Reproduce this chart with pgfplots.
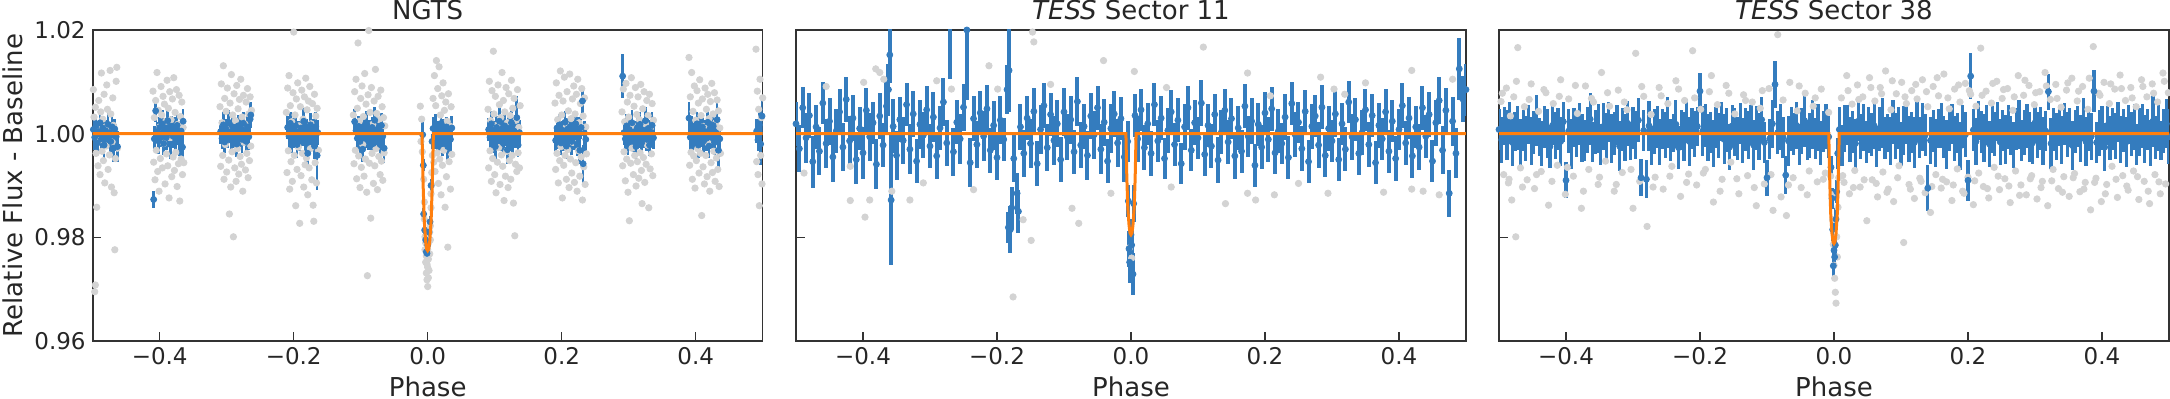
\documentclass[border=0pt]{standalone}
\usepackage{fontspec}
\setmainfont{DejaVu Sans}
\usepackage{pgfplots}
\pgfplotsset{compat=1.18}

\definecolor{tblue}{RGB}{52,124,190}
\definecolor{torange}{RGB}{255,127,14}
\definecolor{lgrey}{RGB}{211,211,211}

\pgfplotsset{
  lc/.style={
    set layers,
    width=335pt, height=155.5pt, scale only axis,
    xmin=-0.5, xmax=0.5, ymin=0.96, ymax=1.02,
    xtick={-0.4,-0.2,0,0.2,0.4},
    xticklabels={−0.4,−0.2,0.0,0.2,0.4},
    ytick={0.96,0.98,1.00,1.02},
    tick align=inside, tick pos=left,
    major tick length=4.3pt,
    axis line style={black!80, line width=0.8pt},
    every tick/.style={black!80, line width=0.8pt},
    tick label style={font=\fontsize{11.5}{13}\selectfont, text=black!85},
    xticklabel style={anchor=base, yshift=-12pt},
    xlabel={Phase},
    label style={font=\fontsize{13}{15}\selectfont, text=black!85},
    xlabel style={at={(axis description cs:0.5,-0.1785)}, anchor=base},
    every axis title shift=0pt,
    title style={font=\fontsize{13}{15}\selectfont, text=black!85,
                 at={(axis description cs:0.5,1.0322)}, anchor=base},
  },
  grey/.style={only marks, mark=*, mark size=1.6pt, color=lgrey,
               mark options={draw=none, fill=lgrey}},
  binned/.style={only marks, mark=*, mark size=1.5pt, color=tblue,
                 mark options={draw=none, fill=tblue},
                 error bars/y dir=both, error bars/y explicit,
                 error bars/error mark=none,
                 error bars/error bar style={line width=1.35pt, tblue}},
  model/.style={torange, line width=1.5pt, sharp plot, no marks,
                on layer=axis foreground},
}

\begin{document}
\begin{tikzpicture}

% ---------------- NGTS
\begin{axis}[lc, at={(0pt,0pt)}, anchor=south west,
  title={NGTS},
  ylabel={Relative Flux - Baseline},
  ylabel style={at={(axis description cs:-0.1055,0.5)}, anchor=base},
  yticklabels={0.96,0.98,1.00,1.02}]

\addplot[grey] table {
x y
-0.499 1.0085
-0.498 1.0032
-0.497 0.9695
-0.496 0.9708
-0.496 1.0051
-0.495 0.9962
-0.494 0.9858
-0.493 1.0011
-0.492 0.9938
-0.491 1.0064
-0.490 0.9987
-0.489 0.9921
-0.488 1.0042
-0.487 1.0117
-0.486 0.9966
-0.485 1.0028
-0.484 0.9948
-0.483 1.0076
-0.482 0.9905
-0.481 1.0013
-0.480 0.9976
-0.479 1.0094
-0.478 1.0047
-0.477 0.9931
-0.476 1.0003
-0.475 0.9959
-0.474 1.0122
-0.473 1.0038
-0.472 0.9897
-0.471 0.9984
-0.470 1.0069
-0.469 1.0016
-0.468 0.9886
-0.467 0.9776
-0.466 0.9952
-0.465 1.0101
-0.464 1.0128
-0.463 0.9972
-0.410 1.0082
-0.409 0.9945
-0.408 1.0031
-0.407 0.9911
-0.406 1.0064
-0.405 0.9968
-0.404 1.0118
-0.403 0.9927
-0.402 1.0045
-0.401 0.9889
-0.400 1.0013
-0.399 0.9952
-0.398 1.0091
-0.397 1.0036
-0.396 0.9934
-0.395 1.0072
-0.394 0.9981
-0.393 1.0057
-0.392 0.9903
-0.391 1.0024
-0.390 0.9961
-0.389 1.0103
-0.388 0.9938
-0.387 1.0049
-0.386 0.9876
-0.385 1.0081
-0.384 0.9992
-0.383 1.0027
-0.382 0.9917
-0.381 1.0067
-0.380 0.9955
-0.379 1.0108
-0.378 0.9929
-0.377 1.0041
-0.376 0.9964
-0.375 1.0085
-0.374 0.9898
-0.373 1.0018
-0.372 0.9942
-0.371 1.0074
-0.370 0.9870
-0.369 1.0033
-0.368 0.9951
-0.367 1.0061
-0.366 0.9921
-0.365 1.0012
-0.364 0.9944
-0.310 1.0052
-0.309 0.9937
-0.308 1.0096
-0.307 1.0021
-0.306 0.9958
-0.305 1.0131
-0.304 0.9912
-0.303 1.0068
-0.302 0.9979
-0.301 1.0043
-0.300 0.9926
-0.299 1.0088
-0.298 1.0007
-0.297 0.9949
-0.296 0.9845
-0.295 1.0059
-0.294 0.9897
-0.293 1.0114
-0.292 0.9965
-0.291 1.0036
-0.290 0.9801
-0.289 1.0077
-0.288 0.9934
-0.287 1.0025
-0.286 0.9908
-0.285 1.0093
-0.284 0.9971
-0.283 1.0048
-0.282 0.9922
-0.281 1.0066
-0.280 0.9956
-0.279 1.0105
-0.278 0.9941
-0.277 1.0032
-0.276 0.9889
-0.275 1.0074
-0.274 0.9983
-0.273 1.0019
-0.272 0.9930
-0.271 1.0061
-0.270 0.9962
-0.269 1.0087
-0.268 0.9915
-0.267 1.0038
-0.266 0.9948
-0.265 1.0071
-0.264 0.9976
-0.263 1.0045
-0.211 1.0041
-0.210 0.9925
-0.209 1.0088
-0.208 0.9967
-0.207 1.0112
-0.206 0.9893
-0.205 1.0054
-0.204 0.9946
-0.203 1.0023
-0.202 0.9908
-0.201 1.0079
-0.200 1.0196
-0.199 0.9958
-0.198 1.0036
-0.197 0.9861
-0.196 1.0067
-0.195 0.9931
-0.194 1.0098
-0.193 0.9974
-0.192 1.0015
-0.191 0.9827
-0.190 1.0052
-0.189 0.9919
-0.188 1.0084
-0.187 0.9962
-0.186 1.0028
-0.185 0.9897
-0.184 1.0071
-0.183 0.9940
-0.182 1.0107
-0.181 0.9953
-0.180 1.0046
-0.179 0.9882
-0.178 1.0063
-0.177 0.9934
-0.176 1.0091
-0.175 0.9971
-0.174 1.0019
-0.173 0.9911
-0.172 1.0058
-0.171 0.9862
-0.170 0.9831
-0.169 1.0076
-0.168 0.9944
-0.167 1.0034
-0.166 0.9905
-0.165 1.0049
-0.163 0.9968
-0.111 1.0036
-0.110 0.9942
-0.109 1.0081
-0.108 0.9968
-0.107 1.0105
-0.106 0.9913
-0.105 1.0049
-0.104 1.0175
-0.103 0.9957
-0.102 1.0024
-0.101 0.9896
-0.100 1.0068
-0.099 0.9935
-0.098 1.0092
-0.097 0.9979
-0.096 1.0033
-0.095 0.9918
-0.094 1.0116
-0.093 0.9951
-0.092 1.0057
-0.091 0.9887
-0.090 0.9726
-0.089 1.0075
-0.088 1.0199
-0.087 0.9943
-0.086 1.0041
-0.085 0.9837
-0.084 1.0089
-0.083 0.9962
-0.082 1.0018
-0.081 0.9904
-0.080 1.0063
-0.079 0.9938
-0.078 1.0124
-0.077 0.9971
-0.076 1.0039
-0.075 0.9892
-0.074 1.0072
-0.073 0.9956
-0.072 1.0027
-0.071 0.9921
-0.070 1.0084
-0.069 0.9947
-0.068 1.0052
-0.067 0.9910
-0.066 1.0031
-0.065 0.9963
-0.064 1.0015
-0.011 1.0053
-0.010 0.9985
-0.009 1.0028
-0.008 0.9965
-0.006 0.9912
-0.005 0.9868
-0.005 0.9835
-0.004 0.9801
-0.004 0.9776
-0.003 0.9789
-0.003 0.9752
-0.002 0.9764
-0.002 0.9731
-0.001 0.9748
-0.001 0.9718
0.000 0.9742
0.000 0.9705
0.000 0.9776
0.001 0.9722
0.001 0.9758
0.002 0.9736
0.002 0.9791
0.003 0.9768
0.003 0.9810
0.004 0.9822
0.004 0.9795
0.005 0.9857
0.005 0.9884
0.006 0.9925
0.006 0.9901
0.007 0.9958
0.008 1.0068
0.009 0.9945
0.010 1.0112
0.011 0.9927
0.012 1.0054
0.013 1.0141
0.014 0.9963
0.015 1.0087
0.016 0.9904
0.017 1.0129
0.018 0.9951
0.019 1.0036
0.020 0.9882
0.021 1.0073
0.022 0.9939
0.023 1.0098
0.024 0.9968
0.025 1.0045
0.026 0.9858
0.027 1.0061
0.028 0.9917
0.029 1.0024
0.030 0.9781
0.031 1.0077
0.032 0.9946
0.033 1.0015
0.034 0.9893
0.035 1.0052
0.036 0.9960
0.090 1.0047
0.091 0.9934
0.092 1.0101
0.093 0.9967
0.094 1.0025
0.095 0.9908
0.096 1.0083
0.097 0.9952
0.098 1.0159
0.099 1.0038
0.100 0.9921
0.101 1.0072
0.102 0.9886
0.103 1.0016
0.104 0.9945
0.105 1.0094
0.106 0.9973
0.107 1.0056
0.108 0.9902
0.109 1.0031
0.110 0.9959
0.111 1.0118
0.112 0.9937
0.113 1.0064
0.114 0.9871
0.115 1.0042
0.116 0.9918
0.117 1.0089
0.118 0.9966
0.119 1.0021
0.120 0.9896
0.121 1.0077
0.122 0.9948
0.123 1.0035
0.124 0.9912
0.125 1.0103
0.126 0.9958
0.127 1.0049
0.128 0.9866
0.129 1.0068
0.130 0.9803
0.131 0.9941
0.132 1.0026
0.133 0.9927
0.134 1.0085
0.135 0.9963
0.136 1.0012
0.137 0.9934
0.138 1.0054
0.190 1.0059
0.191 0.9931
0.192 1.0098
0.193 0.9962
0.194 1.0027
0.195 0.9905
0.196 1.0074
0.197 0.9948
0.198 1.0121
0.199 0.9975
0.200 1.0036
0.201 0.9876
0.202 1.0063
0.203 0.9939
0.204 1.0109
0.205 0.9958
0.206 1.0018
0.207 0.9912
0.208 1.0081
0.209 0.9969
0.210 1.0044
0.211 0.9896
0.212 1.0115
0.213 0.9951
0.214 1.0029
0.215 0.9924
0.216 1.0067
0.217 0.9983
0.218 1.0092
0.219 0.9906
0.220 1.0038
0.221 0.9944
0.222 1.0076
0.223 0.9889
0.224 1.0105
0.225 0.9967
0.226 1.0021
0.227 0.9918
0.228 1.0058
0.229 0.9955
0.230 1.0087
0.231 0.9872
0.232 1.0034
0.233 0.9936
0.234 1.0069
0.235 0.9902
0.236 1.0013
0.237 0.9961
0.290 1.0042
0.291 0.9938
0.292 1.0086
0.293 0.9965
0.294 1.0023
0.295 0.9909
0.296 1.0097
0.297 0.9951
0.298 1.0061
0.299 0.9887
0.300 1.0032
0.301 0.9832
0.302 1.0074
0.303 0.9943
0.304 1.0108
0.305 0.9972
0.306 1.0016
0.307 0.9921
0.308 1.0053
0.309 0.9958
0.310 1.0089
0.311 0.9899
0.312 1.0037
0.313 0.9946
0.314 1.0071
0.315 0.9914
0.316 1.0027
0.317 0.9963
0.318 1.0095
0.319 0.9929
0.320 0.9865
0.321 1.0048
0.322 0.9954
0.323 1.0081
0.324 0.9906
0.325 1.0019
0.326 0.9941
0.327 1.0064
0.328 0.9978
0.329 1.0035
0.330 0.9857
0.331 1.0076
0.332 0.9932
0.333 1.0012
0.334 0.9961
0.335 1.0058
0.336 0.9919
0.337 1.0026
0.390 1.0147
0.391 0.9939
0.392 1.0071
0.393 0.9964
0.394 1.0118
0.395 0.9912
0.396 1.0043
0.397 0.9957
0.398 1.0092
0.399 0.9895
0.400 1.0026
0.401 0.9948
0.402 1.0083
0.403 0.9971
0.404 1.0059
0.405 0.9924
0.406 1.0104
0.407 0.9962
0.408 1.0035
0.409 0.9842
0.410 1.0067
0.411 0.9936
0.412 1.0014
0.413 0.9903
0.414 1.0088
0.415 0.9958
0.416 1.0047
0.417 0.9917
0.418 1.0076
0.419 0.9981
0.420 1.0029
0.421 0.9889
0.422 1.0062
0.423 0.9944
0.424 1.0097
0.425 0.9925
0.426 1.0038
0.427 0.9966
0.428 1.0079
0.429 0.9908
0.430 1.0021
0.431 0.9953
0.432 1.0065
0.433 0.9931
0.434 1.0044
0.435 0.9898
0.436 1.0011
0.437 0.9962
0.490 1.0163
0.491 0.9946
0.492 1.0082
0.493 0.9921
0.494 1.0047
0.495 0.9861
0.496 1.0105
0.497 0.9958
0.498 1.0031
0.499 0.9903
0.500 1.0069
};

\addplot[binned] table[x=x, y=y, y error=e] {
x y e
-0.499 1.0008 0.0022
-0.497 0.9993 0.0025
-0.495 1.0015 0.0020
-0.493 0.9982 0.0024
-0.491 1.0004 0.0021
-0.489 1.0021 0.0026
-0.487 0.9990 0.0019
-0.485 1.0011 0.0023
-0.483 0.9978 0.0028
-0.481 1.0006 0.0020
-0.479 0.9996 0.0024
-0.477 1.0018 0.0022
-0.475 1.0002 0.0021
-0.473 0.9985 0.0025
-0.471 1.0013 0.0023
-0.469 0.9972 0.0027
-0.467 1.0009 0.0020
-0.465 0.9994 0.0024
-0.463 0.9975 0.0030
-0.409 0.9873 0.0016
-0.408 0.9990 0.0024
-0.406 1.0044 0.0022
-0.404 1.0003 0.0020
-0.402 0.9986 0.0025
-0.400 1.0012 0.0021
-0.398 0.9997 0.0023
-0.396 1.0019 0.0026
-0.394 0.9981 0.0022
-0.392 1.0007 0.0020
-0.390 0.9993 0.0024
-0.388 1.0025 0.0021
-0.386 1.0001 0.0023
-0.384 0.9979 0.0027
-0.382 1.0014 0.0020
-0.380 0.9995 0.0022
-0.378 1.0008 0.0025
-0.376 0.9988 0.0021
-0.374 1.0016 0.0024
-0.372 0.9999 0.0020
-0.370 0.9983 0.0026
-0.368 1.0005 0.0023
-0.366 0.9974 0.0029
-0.365 1.0024 0.0023
-0.309 1.0004 0.0023
-0.307 0.9991 0.0021
-0.305 1.0017 0.0025
-0.303 0.9984 0.0022
-0.301 1.0009 0.0020
-0.299 0.9996 0.0024
-0.297 1.0022 0.0023
-0.295 1.0003 0.0021
-0.293 0.9987 0.0026
-0.291 1.0012 0.0022
-0.289 0.9993 0.0020
-0.287 1.0006 0.0024
-0.285 0.9980 0.0025
-0.283 1.0015 0.0021
-0.281 0.9998 0.0023
-0.279 1.0010 0.0020
-0.277 0.9989 0.0026
-0.275 1.0020 0.0022
-0.273 1.0001 0.0024
-0.271 0.9985 0.0021
-0.269 1.0013 0.0023
-0.267 0.9994 0.0025
-0.265 1.0028 0.0027
-0.264 1.0036 0.0026
-0.209 1.0012 0.0022
-0.207 0.9995 0.0024
-0.205 1.0020 0.0021
-0.203 0.9986 0.0023
-0.201 1.0006 0.0025
-0.199 0.9993 0.0020
-0.197 1.0015 0.0022
-0.195 0.9979 0.0026
-0.193 1.0003 0.0021
-0.191 0.9990 0.0024
-0.189 1.0011 0.0022
-0.187 0.9997 0.0020
-0.185 1.0024 0.0025
-0.183 0.9984 0.0023
-0.181 1.0008 0.0021
-0.179 0.9962 0.0026
-0.177 0.9999 0.0024
-0.175 1.0017 0.0022
-0.173 0.9988 0.0020
-0.171 1.0005 0.0023
-0.169 0.9976 0.0025
-0.167 1.0014 0.0027
-0.165 0.9958 0.0066
-0.164 1.0002 0.0024
-0.109 1.0023 0.0024
-0.107 1.0006 0.0021
-0.105 0.9991 0.0023
-0.103 1.0014 0.0020
-0.101 0.9985 0.0025
-0.099 1.0002 0.0022
-0.097 0.9970 0.0024
-0.095 1.0010 0.0021
-0.093 0.9996 0.0023
-0.091 1.0018 0.0026
-0.089 0.9988 0.0020
-0.087 1.0005 0.0022
-0.085 0.9993 0.0024
-0.083 1.0012 0.0021
-0.081 0.9981 0.0023
-0.079 1.0026 0.0025
-0.077 1.0001 0.0022
-0.075 0.9990 0.0020
-0.073 1.0008 0.0024
-0.071 0.9979 0.0021
-0.069 1.0016 0.0023
-0.067 0.9995 0.0026
-0.065 0.9972 0.0028
-0.0075 0.9998 0.0025
-0.0065 0.9939 0.0012
-0.0060 0.9845 0.0012
-0.0045 0.9814 0.0012
-0.0030 0.9795 0.0012
-0.0020 0.9772 0.0012
-0.0010 0.9769 0.0012
0.0000 0.9785 0.0012
0.0020 0.9810 0.0012
0.0035 0.9830 0.0012
0.0050 0.9900 0.0012
0.0065 0.9985 0.0015
0.008 1.0010 0.0022
0.010 0.9994 0.0024
0.012 1.0016 0.0021
0.014 0.9986 0.0023
0.016 1.0005 0.0020
0.018 0.9992 0.0025
0.020 1.0020 0.0022
0.022 0.9981 0.0024
0.024 1.0008 0.0021
0.026 0.9996 0.0023
0.028 1.0013 0.0020
0.030 0.9975 0.0026
0.032 1.0003 0.0022
0.034 0.9989 0.0024
0.036 1.0011 0.0023
0.091 1.0008 0.0023
0.093 0.9993 0.0021
0.095 1.0019 0.0024
0.097 0.9985 0.0022
0.099 1.0004 0.0020
0.101 0.9975 0.0026
0.103 1.0012 0.0023
0.105 0.9996 0.0021
0.107 1.0024 0.0025
0.109 0.9988 0.0022
0.111 1.0006 0.0020
0.113 0.9981 0.0024
0.115 1.0015 0.0022
0.117 0.9998 0.0021
0.119 0.9969 0.0027
0.121 1.0010 0.0023
0.123 0.9992 0.0025
0.125 1.0021 0.0022
0.127 0.9983 0.0020
0.129 1.0005 0.0024
0.131 0.9994 0.0021
0.133 1.0031 0.0042
0.135 0.9978 0.0023
0.137 1.0002 0.0025
0.191 0.9987 0.0026
0.193 1.0011 0.0022
0.195 0.9995 0.0024
0.197 1.0017 0.0021
0.199 0.9982 0.0023
0.201 1.0005 0.0020
0.203 0.9991 0.0025
0.205 1.0022 0.0022
0.207 0.9976 0.0024
0.209 1.0009 0.0021
0.211 0.9997 0.0023
0.213 1.0014 0.0020
0.215 0.9985 0.0026
0.217 1.0003 0.0022
0.219 0.9993 0.0024
0.221 1.0019 0.0021
0.223 0.9980 0.0023
0.225 1.0007 0.0025
0.227 0.9968 0.0027
0.229 1.0012 0.0022
0.231 1.0063 0.0024
0.232 0.9942 0.0037
0.234 1.0001 0.0023
0.236 0.9989 0.0025
0.291 1.0111 0.0043
0.293 1.0002 0.0024
0.295 0.9990 0.0021
0.297 1.0015 0.0023
0.299 0.9983 0.0025
0.301 1.0008 0.0022
0.303 0.9996 0.0020
0.305 1.0021 0.0024
0.307 0.9987 0.0022
0.309 1.0004 0.0021
0.311 0.9975 0.0025
0.313 1.0012 0.0023
0.315 0.9993 0.0020
0.317 1.0018 0.0024
0.319 0.9981 0.0022
0.321 1.0006 0.0021
0.323 0.9995 0.0023
0.325 1.0025 0.0026
0.327 0.9989 0.0022
0.329 1.0010 0.0024
0.331 0.9978 0.0021
0.333 1.0003 0.0023
0.335 1.0016 0.0025
0.337 0.9992 0.0022
0.390 1.0030 0.0031
0.392 0.9993 0.0024
0.394 1.0014 0.0021
0.396 0.9984 0.0023
0.398 1.0006 0.0020
0.400 0.9995 0.0025
0.402 1.0019 0.0022
0.404 0.9978 0.0024
0.406 1.0009 0.0021
0.408 0.9997 0.0023
0.410 1.0013 0.0020
0.412 0.9986 0.0026
0.414 1.0004 0.0022
0.416 0.9991 0.0024
0.418 1.0022 0.0021
0.420 0.9976 0.0023
0.422 1.0007 0.0025
0.424 0.9994 0.0022
0.426 1.0016 0.0020
0.428 0.9983 0.0024
0.430 1.0002 0.0021
0.432 1.0027 0.0033
0.434 0.9968 0.0040
0.436 0.9990 0.0023
0.491 1.0005 0.0023
0.493 0.9988 0.0021
0.495 1.0017 0.0025
0.497 0.9980 0.0040
0.499 1.0034 0.0036
};

\addplot[model] coordinates {
(-0.5,1.0) (-0.0085,1.0) (-0.0068,0.9901) (-0.0052,0.9835) (-0.0032,0.9794)
(-0.0015,0.9777) (0.0,0.9774) (0.0015,0.9777) (0.0032,0.9794)
(0.0052,0.9835) (0.0068,0.9901) (0.0085,1.0) (0.5,1.0)};
\end{axis}

% ---------------- TESS Sector 11
\begin{axis}[lc, at={(351.65pt,0pt)}, anchor=south west,
  title={\textit{TESS} Sector 11},
  yticklabels={,,,}]

\addplot[grey] table {
x y
-0.488 0.9924
-0.455 1.0091
-0.419 0.9871
-0.419 0.9937
-0.399 1.0099
-0.397 0.9839
-0.390 0.9872
-0.381 1.0125
-0.375 1.0118
-0.369 1.0105
-0.357 0.9889
-0.330 0.9872
-0.310 0.9905
-0.290 1.0102
-0.268 1.0086
-0.235 0.9892
-0.212 1.0131
-0.199 1.0086
-0.176 0.9685
-0.161 0.9834
-0.149 0.9794
-0.147 1.0196
-0.145 1.0177
-0.120 1.0095
-0.088 0.9856
-0.078 0.9827
-0.041 1.0141
-0.030 0.9885
-0.002 0.9780
0.001 0.9760
0.005 1.0120
0.053 1.0089
0.060 0.9897
0.108 1.0167
0.141 0.9865
0.174 1.0117
0.174 0.9885
0.186 0.9872
0.208 1.0073
0.214 0.9882
0.250 0.9904
0.283 1.0109
0.294 0.9885
0.303 1.0086
0.319 1.0076
0.350 1.0098
0.377 0.9887
0.419 1.0122
0.419 0.9893
0.436 0.9889
0.460 0.9882
0.480 1.0105
};

\addplot[binned, error bars/error bar style={line width=2.0pt}] table[x=x, y=y, y error=e] {
x y e
-0.500 1.0019 0.0042
-0.495 0.9971 0.0045
-0.490 1.0050 0.0040
-0.485 0.9992 0.0048
-0.480 1.0035 0.0044
-0.475 0.9946 0.0050
-0.470 1.0013 0.0043
-0.465 0.9966 0.0046
-0.460 1.0059 0.0041
-0.455 0.9981 0.0047
-0.450 1.0024 0.0045
-0.445 0.9955 0.0049
-0.440 1.0005 0.0042
-0.435 1.0042 0.0044
-0.430 0.9974 0.0046
-0.425 1.0066 0.0043
-0.420 0.9986 0.0048
-0.415 1.0030 0.0045
-0.410 0.9950 0.0047
-0.405 1.0010 0.0042
-0.400 0.9963 0.0050
-0.395 1.0045 0.0044
-0.390 0.9994 0.0046
-0.385 1.0021 0.0041
-0.380 0.9941 0.0048
-0.375 1.0034 0.0045
-0.370 0.9978 0.0043
-0.365 1.0053 0.0049
-0.362 1.0085 0.0050
-0.360 1.0152 0.0055
-0.358 0.9872 0.0125
-0.355 1.0014 0.0052
-0.350 0.9958 0.0047
-0.345 1.0027 0.0044
-0.340 0.9987 0.0046
-0.335 1.0056 0.0042
-0.330 0.9970 0.0048
-0.325 1.0038 0.0045
-0.320 0.9947 0.0043
-0.315 1.0018 0.0047
-0.310 0.9997 0.0044
-0.305 1.0046 0.0046
-0.300 0.9976 0.0042
-0.295 1.0032 0.0048
-0.290 0.9957 0.0045
-0.285 1.0011 0.0043
-0.280 1.0061 0.0047
-0.275 0.9982 0.0044
-0.270 1.0205 0.0100
-0.265 0.9965 0.0046
-0.260 1.0022 0.0042
-0.255 0.9990 0.0048
-0.250 1.0051 0.0045
-0.245 1.0200 0.0135
-0.240 0.9944 0.0047
-0.235 1.0029 0.0044
-0.230 0.9979 0.0046
-0.225 1.0040 0.0042
-0.220 0.9995 0.0048
-0.215 1.0048 0.0045
-0.210 0.9968 0.0043
-0.205 1.0016 0.0047
-0.200 0.9954 0.0044
-0.195 1.0026 0.0046
-0.190 0.9989 0.0042
-0.185 1.0085 0.0048
-0.183 0.9819 0.0030
-0.182 1.0122 0.0080
-0.180 0.9815 0.0045
-0.178 0.9857 0.0040
-0.175 0.9952 0.0046
-0.170 0.9885 0.0040
-0.168 0.9850 0.0042
-0.165 1.0013 0.0044
-0.160 0.9962 0.0046
-0.155 1.0030 0.0042
-0.150 0.9981 0.0048
-0.145 1.0043 0.0045
-0.140 0.9942 0.0043
-0.135 1.0008 0.0047
-0.130 1.0054 0.0044
-0.125 0.9973 0.0046
-0.120 1.0037 0.0042
-0.115 0.9987 0.0048
-0.110 1.0019 0.0045
-0.105 0.9950 0.0043
-0.100 1.0042 0.0047
-0.095 0.9994 0.0044
-0.090 1.0027 0.0046
-0.085 0.9965 0.0042
-0.080 1.0062 0.0048
-0.075 0.9978 0.0045
-0.070 1.0014 0.0043
-0.065 0.9958 0.0047
-0.060 1.0034 0.0044
-0.055 0.9998 0.0046
-0.050 1.0050 0.0042
-0.045 0.9970 0.0048
-0.040 1.0022 0.0045
-0.035 0.9947 0.0043
-0.030 1.0010 0.0047
-0.025 1.0038 0.0044
-0.020 0.9982 0.0046
-0.015 1.0029 0.0042
-0.010 0.9955 0.0048
-0.005 0.9985 0.0040
-0.004 0.9870 0.0030
-0.003 0.9778 0.0035
-0.002 0.9752 0.0040
0.000 0.9805 0.0030
0.001 0.9785 0.0032
0.003 0.9729 0.0040
0.004 0.9865 0.0035
0.006 1.0035 0.0042
0.010 0.9990 0.0044
0.015 1.0046 0.0041
0.020 0.9973 0.0043
0.025 1.0019 0.0040
0.030 0.9962 0.0044
0.035 1.0056 0.0042
0.040 0.9986 0.0041
0.045 1.0030 0.0043
0.050 0.9952 0.0040
0.055 1.0006 0.0044
0.060 1.0042 0.0042
0.065 0.9979 0.0041
0.070 1.0026 0.0043
0.075 0.9942 0.0040
0.080 1.0013 0.0044
0.085 1.0050 0.0042
0.090 0.9968 0.0041
0.095 1.0021 0.0043
0.100 0.9992 0.0040
0.105 1.0059 0.0044
0.110 0.9960 0.0042
0.115 1.0016 0.0041
0.120 0.9976 0.0043
0.125 1.0037 0.0040
0.130 0.9949 0.0044
0.135 1.0003 0.0042
0.140 1.0045 0.0041
0.145 0.9984 0.0043
0.150 1.0029 0.0040
0.155 0.9957 0.0044
0.160 1.0011 0.0042
0.165 0.9966 0.0041
0.170 1.0053 0.0043
0.175 0.9995 0.0040
0.180 1.0024 0.0044
0.185 0.9939 0.0042
0.190 1.0018 0.0041
0.195 0.9974 0.0043
0.200 1.0040 0.0040
0.205 0.9989 0.0044
0.210 1.0048 0.0042
0.215 0.9963 0.0041
0.220 1.0005 0.0043
0.225 0.9981 0.0040
0.230 1.0032 0.0044
0.235 0.9954 0.0042
0.240 1.0058 0.0041
0.245 0.9998 0.0043
0.250 1.0022 0.0040
0.255 0.9971 0.0044
0.260 1.0043 0.0042
0.265 0.9946 0.0041
0.270 1.0014 0.0043
0.275 1.0034 0.0040
0.280 0.9978 0.0044
0.285 1.0051 0.0042
0.290 0.9958 0.0041
0.295 1.0010 0.0043
0.300 0.9986 0.0040
0.305 1.0038 0.0044
0.310 0.9950 0.0042
0.315 1.0019 0.0041
0.320 0.9970 0.0043
0.325 1.0061 0.0040
0.330 0.9994 0.0044
0.335 1.0027 0.0042
0.340 0.9962 0.0041
0.345 1.0002 0.0043
0.350 1.0046 0.0040
0.355 0.9979 0.0044
0.360 1.0035 0.0042
0.365 0.9944 0.0041
0.370 1.0016 0.0043
0.375 0.9990 0.0040
0.380 1.0042 0.0044
0.385 0.9966 0.0042
0.390 1.0024 0.0041
0.395 0.9952 0.0043
0.400 1.0008 0.0040
0.405 1.0054 0.0044
0.410 0.9982 0.0042
0.415 1.0030 0.0041
0.420 0.9957 0.0043
0.425 1.0013 0.0040
0.430 0.9974 0.0044
0.435 1.0050 0.0042
0.440 0.9995 0.0041
0.445 1.0037 0.0043
0.450 0.9947 0.0040
0.455 1.0021 0.0044
0.460 1.0064 0.0045
0.465 0.9968 0.0046
0.470 1.0045 0.0044
0.475 0.9885 0.0045
0.480 1.0024 0.0047
0.485 0.9962 0.0048
0.490 1.0125 0.0060
0.495 1.0067 0.0045
0.500 1.0085 0.0050
};

\addplot[model] coordinates {
(-0.5,1.0) (-0.0076,1.0) (-0.0062,0.9914) (-0.0048,0.9858) (-0.0029,0.9823)
(-0.0014,0.9808) (0.0,0.9805) (0.0014,0.9808) (0.0029,0.9823)
(0.0048,0.9858) (0.0062,0.9914) (0.0076,1.0) (0.5,1.0)};
\end{axis}

% ---------------- TESS Sector 38
\begin{axis}[lc, at={(703.15pt,0pt)}, anchor=south west,
  title={\textit{TESS} Sector 38},
  yticklabels={,,,}]

\addplot[grey] table {
x y
-0.497 1.0062
-0.493 0.9921
-0.489 1.0088
-0.486 0.9905
-0.483 1.0034
-0.481 0.9872
-0.478 1.0071
-0.475 0.9801
-0.472 1.0166
-0.468 0.9934
-0.462 1.0052
-0.458 0.9911
-0.452 1.0096
-0.447 0.9894
-0.441 1.0043
-0.437 0.9927
-0.430 1.0079
-0.426 0.9862
-0.419 1.0058
-0.413 0.9939
-0.408 1.0104
-0.401 0.9883
-0.396 1.0067
-0.389 0.9918
-0.383 1.0039
-0.377 0.9856
-0.371 1.0092
-0.366 0.9931
-0.359 1.0061
-0.352 0.9902
-0.347 1.0118
-0.341 0.9947
-0.335 1.0053
-0.328 0.9889
-0.322 1.0084
-0.316 0.9925
-0.309 1.0046
-0.300 0.9856
-0.296 1.0155
-0.290 0.9908
-0.284 1.0072
-0.279 0.9821
-0.273 1.0037
-0.267 0.9916
-0.261 1.0089
-0.255 0.9893
-0.248 1.0058
-0.242 0.9937
-0.236 1.0102
-0.229 0.9879
-0.223 1.0064
-0.217 0.9922
-0.211 1.0160
-0.205 0.9901
-0.199 1.0047
-0.192 0.9931
-0.186 1.0081
-0.180 0.9868
-0.174 1.0056
-0.167 0.9912
-0.161 1.0093
-0.154 0.9945
-0.148 1.0038
-0.142 0.9884
-0.135 1.0075
-0.129 0.9919
-0.122 1.0061
-0.116 0.9861
-0.110 1.0049
-0.104 0.9903
-0.097 1.0087
-0.091 0.9852
-0.084 1.0191
-0.079 0.9878
-0.076 1.0065
-0.071 0.9842
-0.066 1.0099
-0.061 0.9915
-0.055 1.0044
-0.049 0.9896
-0.043 1.0078
-0.037 0.9928
-0.031 1.0053
-0.025 0.9907
-0.019 1.0086
-0.013 0.9924
-0.008 1.0041
-0.005 0.9918
-0.003 0.9882
-0.002 0.9834
-0.001 0.9786
0.000 0.9746
0.001 0.9721
0.002 0.9694
0.003 0.9673
0.004 0.9801
0.005 0.9762
0.006 0.9858
0.007 0.9915
0.011 1.0069
0.015 0.9906
0.019 1.0112
0.023 0.9884
0.027 1.0057
0.031 0.9929
0.035 1.0094
0.039 0.9897
0.043 1.0071
0.049 0.9832
0.053 1.0108
0.057 0.9911
0.061 1.0063
0.065 0.9878
0.069 1.0089
0.073 0.9926
0.077 1.0121
0.081 0.9893
0.085 1.0046
0.089 0.9869
0.093 1.0077
0.097 0.9938
0.101 1.0099
0.104 0.9790
0.108 1.0058
0.112 0.9902
0.116 1.0083
0.120 0.9875
0.124 1.0067
0.128 0.9914
0.132 1.0104
0.136 0.9886
0.140 1.0052
0.144 0.9848
0.148 1.0091
0.152 0.9921
0.156 1.0073
0.160 0.9895
0.164 1.0115
0.168 0.9907
0.172 1.0048
0.176 0.9871
0.180 1.0086
0.184 0.9932
0.188 1.0061
0.192 0.9889
0.196 1.0097
0.200 0.9916
0.204 1.0076
0.208 0.9863
0.212 1.0053
0.216 0.9924
0.219 1.0165
0.223 0.9898
0.227 1.0082
0.231 0.9876
0.235 1.0059
0.239 0.9935
0.243 1.0101
0.247 0.9892
0.251 1.0068
0.255 0.9913
0.259 1.0087
0.263 0.9867
0.267 1.0045
0.271 0.9928
0.275 1.0112
0.279 0.9901
0.283 1.0074
0.287 0.9882
0.291 1.0093
0.295 0.9919
0.299 1.0056
0.303 0.9874
0.307 1.0081
0.311 0.9908
0.315 1.0118
0.319 0.9861
0.323 1.0066
0.327 0.9931
0.331 1.0095
0.335 0.9894
0.339 1.0051
0.343 0.9917
0.347 1.0084
0.351 0.9879
0.355 1.0107
0.359 0.9923
0.363 1.0063
0.367 0.9888
0.371 1.0091
0.375 0.9906
0.379 1.0047
0.383 0.9853
0.387 1.0168
0.391 0.9914
0.395 1.0078
0.399 0.9869
0.403 1.0099
0.407 0.9902
0.411 1.0058
0.415 0.9937
0.419 1.0086
0.423 0.9877
0.427 1.0113
0.431 0.9919
0.435 1.0064
0.439 0.9891
0.443 1.0089
0.447 0.9928
0.451 1.0052
0.455 0.9873
0.459 1.0104
0.463 0.9908
0.467 1.0071
0.471 0.9865
0.475 1.0096
0.479 0.9921
0.483 1.0061
0.487 0.9884
0.491 1.0117
0.495 0.9903
0.499 1.0079
-0.495 1.0078
-0.485 0.9912
-0.474 1.0101
-0.465 0.9897
-0.455 1.0066
-0.444 0.9921
-0.433 1.0085
-0.421 0.9908
-0.410 1.0072
-0.398 0.9935
-0.386 1.0093
-0.374 0.9889
-0.362 1.0068
-0.350 0.9916
-0.338 1.0079
-0.325 0.9902
-0.313 1.0061
-0.303 0.9931
-0.287 1.0091
-0.270 0.9897
-0.258 1.0073
-0.245 0.9918
-0.232 1.0086
-0.220 0.9906
-0.208 1.0069
-0.195 0.9924
-0.183 1.0112
-0.170 0.9889
-0.157 1.0078
-0.145 0.9913
-0.132 1.0064
-0.119 0.9896
-0.107 1.0083
-0.094 0.9921
-0.068 0.9901
-0.052 1.0092
-0.040 0.9882
-0.028 1.0069
-0.016 0.9912
0.013 0.9919
0.021 1.0083
0.029 0.9896
0.037 1.0066
0.045 0.9911
0.055 1.0089
0.063 0.9904
0.071 1.0077
0.079 0.9887
0.087 1.0102
0.095 0.9915
0.106 1.0071
0.114 0.9893
0.122 1.0095
0.130 0.9908
0.138 1.0081
0.146 0.9898
0.154 1.0108
0.162 0.9912
0.170 1.0069
0.178 0.9901
0.186 1.0094
0.194 0.9885
0.202 1.0083
0.210 0.9909
0.221 1.0074
0.229 0.9894
0.237 1.0097
0.245 0.9918
0.253 1.0085
0.261 0.9899
0.269 1.0071
0.277 0.9881
0.285 1.0103
0.293 0.9913
0.301 1.0079
0.309 0.9896
0.317 1.0092
0.325 0.9909
0.333 1.0068
0.341 0.9887
0.349 1.0098
0.357 0.9915
0.365 1.0082
0.373 0.9893
0.381 1.0107
0.389 0.9906
0.397 1.0074
0.405 0.9884
0.413 1.0096
0.421 0.9912
0.429 1.0087
0.437 0.9899
0.445 1.0069
0.453 0.9917
0.461 1.0091
0.469 0.9889
0.477 1.0078
0.485 0.9907
0.493 1.0101
};

\addplot[binned, error bars/error bar style={line width=1.6pt}] table[x=x, y=y, y error=e] {
x y e
-0.500 1.0008 0.0039
-0.496 0.9988 0.0044
-0.492 1.0015 0.0037
-0.488 0.9997 0.0048
-0.484 1.0021 0.0041
-0.480 0.9983 0.0046
-0.476 1.0004 0.0038
-0.472 1.0011 0.0043
-0.468 0.9978 0.0050
-0.464 1.0006 0.0040
-0.460 0.9991 0.0043
-0.456 1.0018 0.0038
-0.452 0.9986 0.0046
-0.448 1.0002 0.0041
-0.444 1.0025 0.0049
-0.440 0.9994 0.0037
-0.436 0.9981 0.0044
-0.432 1.0013 0.0040
-0.428 1.0001 0.0047
-0.424 0.9975 0.0042
-0.420 1.0016 0.0038
-0.416 0.9996 0.0045
-0.412 1.0009 0.0041
-0.408 0.9985 0.0047
-0.404 1.0023 0.0039
-0.400 0.9910 0.0035
-0.396 1.0005 0.0042
-0.392 0.9980 0.0048
-0.388 1.0012 0.0037
-0.384 0.9999 0.0044
-0.380 1.0019 0.0041
-0.376 0.9992 0.0046
-0.372 0.9987 0.0039
-0.368 1.0007 0.0044
-0.364 1.0028 0.0050
-0.360 0.9984 0.0038
-0.356 1.0003 0.0043
-0.352 1.0010 0.0047
-0.348 0.9979 0.0040
-0.344 1.0014 0.0045
-0.340 0.9995 0.0044
-0.336 1.0022 0.0039
-0.332 0.9990 0.0047
-0.328 1.0000 0.0042
-0.324 1.0017 0.0038
-0.320 0.9976 0.0049
-0.316 1.0008 0.0041
-0.312 0.9993 0.0045
-0.308 1.0020 0.0043
-0.304 0.9986 0.0037
-0.300 1.0011 0.0040
-0.296 0.9998 0.0046
-0.292 1.0026 0.0042
-0.288 0.9915 0.0036
-0.284 1.0006 0.0039
-0.280 0.9912 0.0037
-0.276 1.0015 0.0048
-0.272 0.9977 0.0038
-0.268 1.0004 0.0043
-0.264 1.0013 0.0041
-0.260 0.9984 0.0045
-0.256 1.0009 0.0038
-0.252 0.9997 0.0044
-0.248 1.0021 0.0049
-0.244 0.9988 0.0041
-0.240 1.0001 0.0037
-0.236 1.0018 0.0046
-0.232 0.9973 0.0042
-0.228 1.0007 0.0039
-0.224 0.9994 0.0047
-0.220 1.0024 0.0042
-0.216 0.9985 0.0047
-0.212 1.0010 0.0040
-0.208 0.9999 0.0044
-0.204 1.0014 0.0038
-0.200 1.0082 0.0035
-0.196 1.0005 0.0048
-0.192 1.0016 0.0041
-0.188 0.9992 0.0045
-0.184 1.0002 0.0039
-0.180 0.9981 0.0046
-0.176 1.0012 0.0039
-0.172 0.9996 0.0043
-0.168 1.0023 0.0038
-0.164 0.9989 0.0048
-0.160 1.0007 0.0042
-0.156 0.9974 0.0045
-0.152 1.0015 0.0040
-0.148 1.0003 0.0047
-0.144 0.9991 0.0041
-0.140 1.0020 0.0039
-0.136 0.9987 0.0044
-0.132 1.0008 0.0041
-0.128 0.9998 0.0046
-0.124 1.0017 0.0038
-0.120 0.9978 0.0049
-0.116 1.0011 0.0042
-0.112 0.9995 0.0045
-0.108 1.0027 0.0043
-0.104 0.9983 0.0040
-0.100 0.9915 0.0035
-0.096 0.9990 0.0038
-0.092 1.0019 0.0046
-0.088 1.0095 0.0045
-0.084 1.0002 0.0041
-0.080 1.0013 0.0044
-0.076 0.9993 0.0039
-0.072 0.9920 0.0037
-0.068 0.9986 0.0048
-0.064 1.0009 0.0042
-0.060 0.9999 0.0041
-0.056 1.0016 0.0046
-0.052 0.9979 0.0039
-0.048 1.0005 0.0044
-0.044 1.0025 0.0050
-0.040 0.9988 0.0038
-0.036 0.9997 0.0043
-0.032 1.0018 0.0047
-0.028 0.9991 0.0040
-0.024 1.0012 0.0045
-0.020 0.9982 0.0042
-0.016 1.0004 0.0039
-0.012 1.0014 0.0044
-0.008 0.9994 0.0041
-0.0045 0.9935 0.0022
-0.0030 0.9875 0.0021
-0.0020 0.9815 0.0022
-0.0010 0.9745 0.0020
0.0000 0.9775 0.0021
0.0010 0.9762 0.0022
0.0020 0.9785 0.0020
0.0030 0.9835 0.0021
0.0040 0.9888 0.0022
0.0055 0.9962 0.0030
0.008 1.0008 0.0043
0.012 0.9977 0.0040
0.016 1.0010 0.0046
0.020 1.0017 0.0038
0.024 0.9989 0.0044
0.028 1.0003 0.0041
0.032 0.9981 0.0047
0.036 1.0024 0.0039
0.040 0.9995 0.0043
0.044 1.0012 0.0046
0.048 0.9984 0.0040
0.052 1.0007 0.0045
0.056 0.9998 0.0042
0.060 1.0015 0.0045
0.064 0.9975 0.0039
0.068 1.0009 0.0043
0.072 1.0020 0.0048
0.076 0.9992 0.0041
0.080 1.0001 0.0037
0.084 0.9986 0.0046
0.088 1.0023 0.0042
0.092 0.9996 0.0044
0.096 1.0011 0.0040
0.100 0.9980 0.0042
0.104 1.0006 0.0047
0.108 1.0018 0.0038
0.112 0.9990 0.0044
0.116 1.0002 0.0040
0.120 0.9983 0.0049
0.124 1.0026 0.0043
0.128 0.9993 0.0039
0.132 1.0013 0.0046
0.136 0.9997 0.0041
0.140 0.9895 0.0045
0.144 0.9987 0.0045
0.148 1.0005 0.0041
0.152 0.9982 0.0047
0.156 1.0010 0.0038
0.160 1.0016 0.0043
0.164 0.9994 0.0040
0.168 0.9979 0.0048
0.172 1.0008 0.0042
0.176 1.0019 0.0039
0.180 0.9991 0.0044
0.184 1.0001 0.0039
0.188 0.9976 0.0046
0.192 1.0014 0.0041
0.196 0.9998 0.0043
0.200 0.9910 0.0040
0.204 1.0111 0.0045
0.208 1.0007 0.0040
0.212 0.9985 0.0045
0.216 1.0025 0.0038
0.220 1.0003 0.0041
0.224 0.9992 0.0046
0.228 1.0017 0.0039
0.232 0.9980 0.0044
0.236 1.0011 0.0048
0.240 0.9999 0.0042
0.244 1.0023 0.0038
0.248 0.9984 0.0045
0.252 1.0006 0.0040
0.256 0.9989 0.0047
0.260 1.0013 0.0043
0.264 0.9996 0.0038
0.268 0.9978 0.0045
0.272 1.0009 0.0041
0.276 1.0018 0.0047
0.280 0.9987 0.0039
0.284 1.0002 0.0044
0.288 1.0015 0.0042
0.292 0.9993 0.0048
0.296 0.9982 0.0040
0.300 1.0021 0.0039
0.304 0.9997 0.0044
0.308 1.0010 0.0042
0.312 0.9986 0.0046
0.316 1.0005 0.0038
0.320 1.0081 0.0035
0.324 0.9981 0.0049
0.328 1.0008 0.0041
0.332 0.9994 0.0045
0.336 1.0016 0.0040
0.340 0.9988 0.0046
0.344 1.0019 0.0040
0.348 0.9998 0.0043
0.352 1.0012 0.0038
0.356 0.9977 0.0047
0.360 1.0004 0.0042
0.364 1.0014 0.0039
0.368 0.9991 0.0045
0.372 1.0027 0.0041
0.376 0.9985 0.0048
0.380 1.0007 0.0041
0.384 0.9995 0.0045
0.388 1.0082 0.0040
0.392 0.9983 0.0039
0.396 1.0001 0.0044
0.400 1.0011 0.0042
0.404 0.9974 0.0047
0.408 1.0016 0.0038
0.412 0.9992 0.0043
0.416 1.0009 0.0040
0.420 0.9996 0.0044
0.424 1.0022 0.0039
0.428 0.9989 0.0046
0.432 1.0006 0.0041
0.436 0.9984 0.0048
0.440 1.0018 0.0038
0.444 0.9999 0.0043
0.448 1.0013 0.0045
0.452 0.9979 0.0040
0.456 1.0003 0.0047
0.460 1.0015 0.0042
0.464 0.9990 0.0046
0.468 1.0008 0.0039
0.472 0.9982 0.0044
0.476 1.0024 0.0050
0.480 0.9993 0.0041
0.484 1.0012 0.0045
0.488 0.9987 0.0038
0.492 1.0005 0.0043
0.496 1.0019 0.0047
0.500 0.9994 0.0053
};

\addplot[model] coordinates {
(-0.5,1.0) (-0.0078,1.0) (-0.0063,0.9907) (-0.0049,0.9845) (-0.0030,0.9807)
(-0.0014,0.9791) (0.0,0.9788) (0.0014,0.9791) (0.0030,0.9807)
(0.0049,0.9845) (0.0063,0.9907) (0.0078,1.0) (0.5,1.0)};
\end{axis}

\pgfresetboundingbox
\path[use as bounding box] (-46.35pt,-29pt) rectangle (1038.65pt,170.5pt);
\end{tikzpicture}
\end{document}
